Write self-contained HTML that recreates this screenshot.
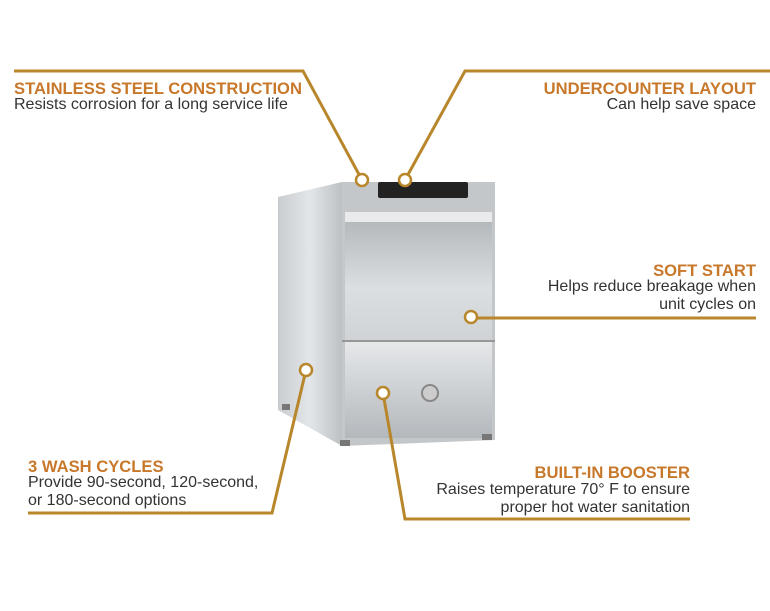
<!DOCTYPE html>
<html><head><meta charset="utf-8"><style>
html,body{margin:0;padding:0;background:#fff;width:770px;height:611px;overflow:hidden;position:relative;font-family:"Liberation Sans",sans-serif}
.t{position:absolute;font-weight:bold;color:#c8782a;font-size:16.6px;line-height:20px;white-space:nowrap}
.b{position:absolute;color:#333;font-size:16px;line-height:18px;white-space:nowrap}
.r{text-align:right}
svg{position:absolute;left:0;top:0}
</style></head><body>
<svg width="770" height="611">
<defs>
<linearGradient id="side" x1="0" x2="1"><stop offset="0" stop-color="#c9cdd0"/><stop offset="0.5" stop-color="#e3e6e8"/><stop offset="1" stop-color="#bcc1c4"/></linearGradient>
<linearGradient id="door" x1="0" y1="0" x2="0" y2="1"><stop offset="0" stop-color="#aeb3b7"/><stop offset="0.6" stop-color="#dcdfe1"/><stop offset="1" stop-color="#cfd3d5"/></linearGradient>
<linearGradient id="low" x1="0" y1="0" x2="0" y2="1"><stop offset="0" stop-color="#e6e8ea"/><stop offset="1" stop-color="#b3b8bc"/></linearGradient>
</defs>
<polygon points="278,197 342,182 342,446 278,410" fill="url(#side)"/>
<polygon points="342,182 495,182 495,440 342,446" fill="#c3c7ca"/>
<rect x="345" y="212" width="147" height="128" fill="url(#door)"/>
<rect x="345" y="212" width="147" height="10" fill="#e8eaeb"/>
<rect x="345" y="342" width="147" height="96" fill="url(#low)"/>
<line x1="342" y1="341" x2="495" y2="341" stroke="#888" stroke-width="1.5"/>
<rect x="378" y="182" width="90" height="16" rx="2" fill="#222"/>
<circle cx="430" cy="393" r="8" fill="#ccc" stroke="#888" stroke-width="2"/>
<rect x="340" y="440" width="10" height="6" fill="#777"/><rect x="482" y="434" width="10" height="6" fill="#777"/><rect x="282" y="404" width="8" height="6" fill="#777"/>
<g stroke="#b8862b" stroke-width="3" fill="none">
<polyline points="14,71 303,71 362,180"/>
<polyline points="405,180 465,71 770,71"/>
<polyline points="477,318 756,318"/>
<polyline points="306,370 272,513 28,513"/>
<polyline points="383,393 405,519 690,519"/>
</g>
<g fill="#fff" stroke="#b8862b" stroke-width="2.5">
<circle cx="362" cy="180" r="6"/><circle cx="405" cy="180" r="6"/><circle cx="471" cy="317" r="6"/><circle cx="306" cy="370" r="6"/><circle cx="383" cy="393" r="6"/>
</g>
</svg>
<div class="t" style="left:14px;top:79px">STAINLESS STEEL CONSTRUCTION</div>
<div class="b" style="left:14px;top:96px">Resists corrosion for a long service life</div>
<div class="t r" style="right:14px;top:79px">UNDERCOUNTER LAYOUT</div>
<div class="b r" style="right:14px;top:96px">Can help save space</div>
<div class="t r" style="right:14px;top:261px">SOFT START</div>
<div class="b r" style="right:14px;top:278px">Helps reduce breakage when<br>unit cycles on</div>
<div class="t" style="left:28px;top:457px">3 WASH CYCLES</div>
<div class="b" style="left:28px;top:474px">Provide 90-second, 120-second,<br>or 180-second options</div>
<div class="t r" style="right:80px;top:463px">BUILT-IN BOOSTER</div>
<div class="b r" style="right:80px;top:481px">Raises temperature 70° F to ensure<br>proper hot water sanitation</div>
</body></html>
